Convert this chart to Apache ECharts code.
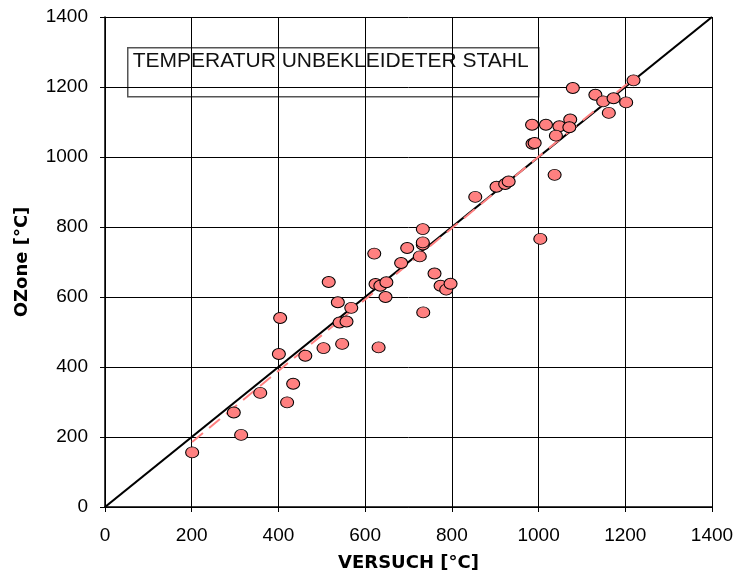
<!DOCTYPE html>
<html>
<head>
<meta charset="utf-8">
<script src="https://cdn.jsdelivr.net/npm/echarts@6/dist/echarts.min.js"></script>
<style>
    html, body { margin: 0; padding: 0; background: #fff; }
    #chart { width: 736px; height: 576px; }
</style>
</head>
<body>
<div id="chart"></div>
<script>
const versuchX = [201, 297, 314, 358, 434, 420, 401, 404, 462, 504,
    516, 537, 541, 557, 547, 568, 621, 624, 635, 649,
    647, 631, 683, 697, 726, 733, 733, 733, 734, 760,
    774, 787, 797, 854, 903, 923, 931, 1004, 1037, 985,
    1017, 1048, 1073, 1071, 1040, 986, 991, 1079, 1131, 1149,
    1173, 1202, 1162, 1219];
const ozoneY = [156, 270, 206, 326, 352, 299, 437, 540, 432, 454,
    643, 585, 527, 530, 466, 569, 724, 637, 632, 642,
    600, 456, 697, 740, 716, 750, 756, 794, 556, 667,
    632, 621, 638, 886, 915, 923, 930, 766, 949, 1092,
    1092, 1088, 1107, 1085, 1061, 1038, 1040, 1197, 1178, 1159,
    1168, 1156, 1126, 1219];

// y = x reference line and the dashed trend line
const diagonalX = [0, 1400];
const diagonalY = [0, 1400];
const trendX = [201, 1219];
const trendY = [186, 1224];

const axisTicks = [0, 200, 400, 600, 800, 1000, 1200, 1400];

const chartTitle = 'TEMPERATUR UNBEKLEIDETER STAHL';
const xName = 'VERSUCH [°C]';
const yName = 'OZone [°C]';

const zip = (xs, ys) => xs.map((x, i) => [x, ys[i]]);

const chart = echarts.init(document.getElementById('chart'));

const labelFont = { color: '#000', fontSize: 19, fontFamily: 'Liberation Sans, Arial, sans-serif', formatter: v => String(v) };
const nameFont = { color: '#000', fontSize: 18, fontWeight: 'bold', fontFamily: 'DejaVu Sans, sans-serif' };
const gridLine = { show: true, lineStyle: { color: '#000', width: 1 } };

chart.setOption({
    animation: false,
    backgroundColor: '#fff',
    grid: { left: 105, right: 24, top: 17, bottom: 69, containLabel: false, outerBoundsMode: 'none' },
    xAxis: {
        type: 'value', min: axisTicks[0], max: axisTicks[axisTicks.length - 1], interval: 200,
        name: xName, nameLocation: 'middle', nameGap: 47,
        nameTextStyle: nameFont,
        axisLine: { show: true, onZero: false, lineStyle: { color: '#000', width: 1.5 } },
        axisTick: { show: true, inside: false, length: 5, lineStyle: { color: '#000' } },
        axisLabel: Object.assign({ margin: 19 }, labelFont),
        splitLine: gridLine
    },
    yAxis: {
        type: 'value', min: axisTicks[0], max: axisTicks[axisTicks.length - 1], interval: 200,
        name: yName, nameLocation: 'middle', nameGap: 74, nameRotate: 90,
        nameTextStyle: nameFont,
        axisLine: { show: true, onZero: false, lineStyle: { color: '#000', width: 1.5 } },
        axisTick: { show: true, inside: false, length: 5, lineStyle: { color: '#000' } },
        axisLabel: Object.assign({ margin: 17 }, labelFont),
        splitLine: gridLine
    },
    graphic: [{
        type: 'group', left: 127, top: 47, z: 100,
        children: [
            { type: 'rect', shape: { x: 0, y: 0, width: 411, height: 49 },
              style: { fill: '#fff', stroke: '#555', lineWidth: 1.5 } },
            { type: 'text', x: 5, y: 3,
              style: { text: chartTitle, fill: '#111', fontSize: 21, fontFamily: 'Liberation Sans, Arial, sans-serif' } }
        ]
    }],
    series: [
        {
            name: 'diagonal', type: 'line', data: zip(diagonalX, diagonalY),
            showSymbol: false, lineStyle: { color: '#000', width: 2.2 }, z: 2
        },
        {
            name: 'trend', type: 'line', data: zip(trendX, trendY),
            showSymbol: false, lineStyle: { color: '#ff8080', width: 2, type: [14, 8] }, z: 3
        },
        {
            name: 'points', type: 'scatter', data: zip(versuchX, ozoneY),
            symbol: 'circle', symbolSize: [13, 11],
            itemStyle: { color: '#ff8080', borderColor: '#000', borderWidth: 1, opacity: 1 },
            z: 4
        }
    ]
});
</script>
</body>
</html>
